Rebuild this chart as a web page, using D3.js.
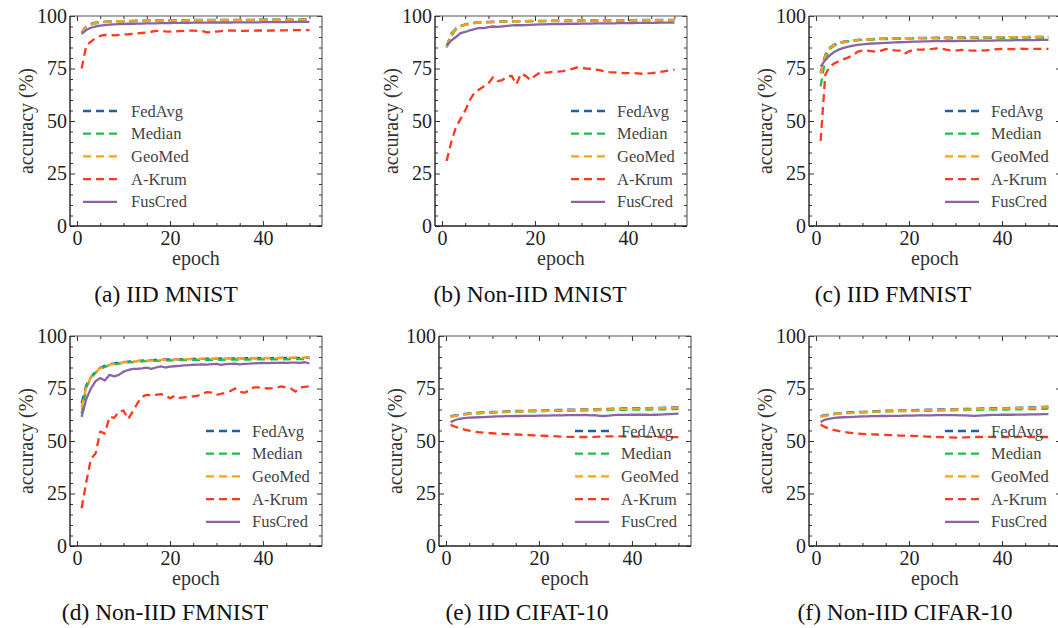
<!DOCTYPE html>
<html>
<head>
<meta charset="utf-8">
<script src="https://cdn.jsdelivr.net/npm/d3@7"></script>
<style>
  html, body { margin: 0; padding: 0; background: #fff; }
  svg { display: block; }
  text { font-family: "Liberation Serif", "Times New Roman", serif; }
</style>
</head>
<body>
<svg id="chart" width="1058" height="628"></svg>
<script>
// ---------- data ----------
const epochs = d3.range(1, 51);
const seriesNames = ["FedAvg", "Median", "GeoMed", "A-Krum", "FusCred"];
const captions = ["(a) IID MNIST", "(b) Non-IID MNIST", "(c) IID FMNIST",
                  "(d) Non-IID FMNIST", "(e) IID CIFAT-10", "(f) Non-IID CIFAR-10"];
const xTickLabels = [0, 20, 40];
const yTickLabels = [0, 25, 50, 75, 100];

// (a) IID MNIST
const fedavg_a = [92.0,95.0,96.2,96.8,97.1,97.3,97.4,97.5,97.6,97.6,
97.7,97.7,97.8,97.8,97.8,97.9,97.9,97.9,97.9,98.0,
98.0,98.0,98.0,98.0,98.1,98.1,98.1,98.1,98.1,98.1,
98.2,98.2,98.2,98.2,98.2,98.2,98.2,98.2,98.3,98.3,
98.3,98.3,98.3,98.3,98.3,98.3,98.3,98.4,98.4,98.4];
const median_a = [91.6,94.6,95.9,96.5,96.9,97.1,97.2,97.3,97.4,97.4,
97.5,97.5,97.6,97.6,97.6,97.7,97.7,97.7,97.7,97.8,
97.8,97.8,97.8,97.8,97.9,97.9,97.9,97.9,97.9,97.9,
98.0,98.0,98.0,98.0,98.0,98.0,98.0,98.0,98.1,98.1,
98.1,98.1,98.1,98.1,98.1,98.1,98.1,98.2,98.2,98.2];
const geomed_a = [91.8,94.8,96.0,96.6,97.0,97.2,97.3,97.4,97.5,97.5,
97.6,97.6,97.7,97.7,97.7,97.8,97.8,97.8,97.8,97.9,
97.9,97.9,97.9,97.9,98.0,98.0,98.0,98.0,98.0,98.0,
98.1,98.1,98.1,98.1,98.1,98.1,98.1,98.1,98.2,98.2,
98.2,98.2,98.2,98.2,98.2,98.2,98.2,98.3,98.3,98.3];
const akrum_a = [75.0,86.0,87.8,89.5,90.5,91.0,90.9,90.8,91.0,91.2,
91.3,91.5,91.7,91.9,92.1,92.5,92.9,92.9,92.7,92.6,
92.7,92.8,92.9,93.0,93.0,92.9,92.8,92.2,92.3,92.6,
92.8,93.0,93.1,93.0,92.9,92.9,93.0,93.0,93.1,93.1,
93.0,93.1,93.2,93.2,93.2,93.3,93.3,93.3,93.3,93.3];
const fuscred_a = [91.5,93.3,94.4,95.0,95.4,95.7,95.9,96.0,96.1,96.2,
96.3,96.3,96.4,96.4,96.5,96.5,96.5,96.6,96.6,96.6,
96.7,96.7,96.7,96.7,96.8,96.8,96.8,96.8,96.9,96.9,
96.9,96.9,96.9,97.0,97.0,97.0,97.0,97.0,97.0,97.1,
97.1,97.1,97.1,97.1,97.1,97.2,97.2,97.2,97.2,97.2];

// (b) Non-IID MNIST
const fedavg_b = [85.5,91.5,94.0,95.3,96.0,96.5,96.8,97.0,97.1,97.2,
97.3,97.4,97.4,97.5,97.5,97.6,97.6,97.6,97.7,97.7,
97.7,97.7,97.8,97.8,97.8,97.8,97.8,97.9,97.9,97.9,
97.9,97.9,97.9,98.0,98.0,98.0,98.0,98.0,98.0,98.0,
98.0,98.1,98.1,98.1,98.1,98.1,98.1,98.1,98.1,98.2];
const median_b = [85.0,90.5,93.5,95.0,95.8,96.3,96.6,96.8,96.9,97.0,
97.1,97.2,97.2,97.3,97.3,97.4,97.4,97.4,97.5,97.5,
97.5,97.5,97.6,97.6,97.6,97.6,97.6,97.7,97.7,97.7,
97.7,97.7,97.7,97.8,97.8,97.8,97.8,97.8,97.8,97.8,
97.8,97.9,97.9,97.9,97.9,97.9,97.9,97.9,97.9,98.0];
const geomed_b = [85.3,91.0,93.8,95.1,95.9,96.4,96.7,96.9,97.0,97.1,
97.2,97.3,97.3,97.4,97.4,97.5,97.5,97.5,97.6,97.6,
97.6,97.6,97.7,97.7,97.7,97.7,97.7,97.8,97.8,97.8,
97.8,97.8,97.8,97.9,97.9,97.9,97.9,97.9,97.9,97.9,
97.9,98.0,98.0,98.0,98.0,98.0,98.0,98.0,98.0,98.1];
const akrum_b = [31.0,40.0,47.0,51.0,55.0,60.0,63.5,65.0,66.5,68.0,
70.8,69.0,69.5,71.0,71.5,67.5,72.5,71.5,69.5,71.5,
73.0,73.0,73.2,73.5,73.5,73.8,74.2,74.8,75.5,75.3,
75.0,74.8,74.5,74.2,73.5,73.3,73.2,73.0,72.8,72.8,
72.8,72.7,72.5,72.7,72.8,73.0,73.4,73.8,74.1,74.4];
const fuscred_b = [86.0,88.3,90.0,91.8,92.4,93.2,93.7,94.3,94.2,94.7,
95.0,94.8,95.1,95.3,95.5,95.6,95.6,95.7,95.8,95.9,
96.0,96.0,96.1,96.1,96.2,96.2,96.3,96.3,96.3,96.4,
96.4,96.4,96.5,96.5,96.5,96.5,96.5,96.6,96.6,96.6,
96.6,96.7,96.7,96.7,96.7,96.7,96.8,96.8,96.8,96.8];

// (c) IID FMNIST
const fedavg_c = [73.0,81.5,85.0,86.5,87.3,87.8,88.1,88.4,88.6,88.8,
88.9,89.0,89.1,89.2,89.3,89.3,89.4,89.4,89.5,89.5,
89.5,89.6,89.6,89.6,89.6,89.7,89.7,89.7,89.7,89.7,
89.8,89.8,89.8,89.8,89.8,89.8,89.8,89.9,89.9,89.9,
89.9,89.9,89.9,89.9,89.9,90.0,90.0,90.0,90.0,90.0];
const median_c = [66.5,79.5,84.3,86.0,87.0,87.5,87.9,88.2,88.4,88.6,
88.7,88.8,88.9,89.0,89.0,89.1,89.1,89.2,89.2,89.2,
89.3,89.3,89.3,89.3,89.4,89.4,89.4,89.4,89.4,89.5,
89.5,89.5,89.5,89.5,89.5,89.6,89.6,89.6,89.6,89.6,
89.6,89.6,89.7,89.7,89.7,89.7,89.7,89.7,89.7,89.7];
const geomed_c = [72.5,81.0,84.8,86.3,87.2,87.7,88.0,88.3,88.5,88.7,
88.8,88.9,89.0,89.1,89.2,89.2,89.3,89.3,89.4,89.4,
89.5,89.5,89.5,89.5,89.6,89.6,89.6,89.6,89.7,89.7,
89.7,89.7,89.7,89.8,89.8,89.8,89.8,89.8,89.8,89.9,
89.9,89.9,89.9,89.9,89.9,89.9,90.0,90.0,90.0,90.0];
const akrum_c = [40.5,72.0,76.0,77.5,78.5,79.5,80.3,81.5,83.0,83.5,
83.5,83.3,83.0,83.5,84.2,84.0,83.6,83.5,82.0,83.2,
83.8,84.0,84.0,84.1,84.3,84.6,84.5,84.0,83.6,83.5,
83.8,83.9,83.6,83.5,83.5,83.6,83.7,84.0,84.2,84.3,
84.3,84.2,84.3,84.4,84.3,84.2,84.3,84.3,84.3,84.3];
const fuscred_c = [76.0,79.0,81.3,83.0,84.1,84.8,85.4,85.9,86.2,86.5,
86.7,86.9,87.0,87.1,87.2,87.3,87.4,87.5,87.6,87.7,
87.8,87.8,87.9,87.9,88.0,88.0,88.0,88.1,88.1,88.1,
88.2,88.2,88.2,88.2,88.3,88.3,88.3,88.3,88.4,88.4,
88.4,88.4,88.5,88.5,88.5,88.5,88.5,88.6,88.6,88.6];

// (d) Non-IID FMNIST
const fedavg_d = [68.0,76.5,80.5,83.0,84.8,85.8,86.5,87.0,87.3,87.6,
87.8,88.0,88.1,88.3,88.4,88.5,88.6,88.7,88.8,88.8,
88.9,88.9,89.0,89.0,89.1,89.1,89.1,89.2,89.2,89.2,
89.3,89.3,89.3,89.3,89.4,89.4,89.4,89.4,89.5,89.5,
89.5,89.5,89.5,89.6,89.6,89.6,89.6,89.6,89.7,89.7];
const median_d = [63.0,75.5,80.0,82.5,84.3,85.3,86.0,86.5,86.9,87.2,
87.4,87.6,87.8,87.9,88.0,88.1,88.2,88.3,88.3,88.4,
88.4,88.5,88.5,88.5,88.6,88.6,88.6,88.7,88.7,88.7,
88.7,88.8,88.8,88.8,88.8,88.8,88.8,88.9,88.9,88.9,
88.9,88.9,88.9,88.9,88.9,89.0,89.0,89.0,89.0,89.0];
const geomed_d = [66.0,76.0,80.3,82.8,84.6,85.6,86.3,86.8,87.1,87.4,
87.6,87.8,88.0,88.2,88.3,88.4,88.5,88.6,88.7,88.8,
88.9,88.9,89.0,89.0,89.1,89.1,89.2,89.2,89.2,89.3,
89.3,89.3,89.4,89.4,89.4,89.4,89.5,89.5,89.5,89.5,
89.6,89.6,89.6,89.6,89.7,89.7,89.7,89.7,89.8,89.8];
const akrum_d = [18.0,30.5,41.5,44.0,54.5,53.5,61.5,61.0,64.0,64.5,
60.5,64.0,68.0,71.0,72.0,71.8,72.0,72.3,72.0,70.3,
71.5,70.5,70.8,71.0,71.3,71.6,72.5,73.3,73.0,72.0,
72.5,73.0,73.8,75.0,73.5,73.0,74.0,75.5,75.5,75.3,
75.0,75.2,75.5,76.0,75.5,75.0,73.5,75.5,75.8,76.0];
const fuscred_d = [61.5,70.0,75.0,78.5,80.0,78.8,81.5,80.8,81.5,83.0,
83.8,84.3,84.4,84.6,84.9,84.3,85.0,85.5,85.0,85.4,
85.6,85.8,86.0,86.1,86.3,86.4,86.5,86.4,86.6,86.7,
86.2,86.6,86.7,86.8,86.5,86.7,86.8,87.0,87.1,87.2,
87.1,87.2,87.2,87.3,87.2,87.3,87.3,87.2,87.5,87.0];

// (e) IID CIFAR-10
const fedavg_e = [61.8,62.2,62.6,62.9,63.1,63.3,63.5,63.6,63.7,63.8,
63.9,64.0,64.1,64.2,64.3,64.3,64.4,64.5,64.5,64.6,
64.6,64.7,64.7,64.8,64.8,64.9,64.9,65.0,65.0,65.1,
65.1,65.2,65.2,65.3,65.3,65.4,65.4,65.5,65.5,65.5,
65.6,65.6,65.7,65.7,65.8,65.8,65.9,65.9,66.0,66.0];
const median_e = [61.6,62.0,62.4,62.7,62.9,63.1,63.2,63.3,63.4,63.5,
63.6,63.7,63.8,63.9,63.9,64.0,64.0,64.1,64.1,64.2,
64.2,64.3,64.3,64.3,64.4,64.4,64.5,64.5,64.5,64.6,
64.6,64.6,64.7,64.7,64.7,64.8,64.8,64.8,64.9,64.9,
64.9,65.0,65.0,65.0,65.1,65.1,65.1,65.2,65.2,65.3];
const geomed_e = [61.5,62.0,62.4,62.7,62.9,63.1,63.3,63.4,63.5,63.6,
63.7,63.8,63.9,64.0,64.1,64.1,64.2,64.3,64.3,64.4,
64.4,64.5,64.5,64.6,64.6,64.7,64.7,64.8,64.8,64.9,
64.9,65.0,65.0,65.1,65.1,65.2,65.2,65.3,65.3,65.3,
65.4,65.4,65.5,65.5,65.6,65.6,65.7,65.7,65.8,65.9];
const akrum_e = [57.7,56.8,56.0,55.4,54.9,54.5,54.2,54.0,53.8,53.7,
53.5,53.4,53.3,53.2,53.1,53.0,52.9,52.8,52.7,52.6,
52.5,52.4,52.3,52.2,52.1,52.0,52.0,51.9,51.9,51.9,
51.9,52.0,52.1,52.2,52.2,52.2,52.2,52.2,52.1,52.1,
52.1,52.0,52.0,52.0,52.0,51.9,51.9,51.9,51.8,51.8];
const fuscred_e = [59.0,60.0,60.6,60.9,61.1,61.2,61.3,61.4,61.5,61.6,
61.7,61.7,61.8,61.8,61.9,61.9,62.0,62.0,62.0,62.1,
62.1,62.1,62.2,62.2,62.2,62.3,62.3,62.3,62.3,62.4,
62.2,62.3,62.0,61.9,62.1,62.3,62.4,62.4,62.4,62.5,
62.5,62.5,62.5,62.4,62.5,62.6,62.7,62.8,62.9,63.0];

// (f) Non-IID CIFAR-10
const fedavg_f = [61.9,62.3,62.7,63.0,63.2,63.4,63.6,63.7,63.8,63.9,
64.0,64.1,64.2,64.3,64.4,64.4,64.5,64.6,64.6,64.7,
64.7,64.8,64.8,64.9,64.9,65.0,65.0,65.1,65.1,65.2,
65.2,65.3,65.3,65.4,65.4,65.5,65.5,65.6,65.6,65.7,
65.7,65.8,65.8,65.9,65.9,66.0,66.0,66.1,66.2,66.3];
const median_f = [61.6,62.1,62.5,62.8,63.0,63.2,63.3,63.4,63.5,63.6,
63.7,63.8,63.9,64.0,64.0,64.1,64.1,64.2,64.2,64.3,
64.3,64.4,64.4,64.4,64.5,64.5,64.6,64.6,64.6,64.7,
64.7,64.7,64.8,64.8,64.8,64.9,64.9,64.9,65.0,65.0,
65.0,65.1,65.1,65.1,65.2,65.2,65.2,65.3,65.3,65.4];
const geomed_f = [61.6,62.1,62.5,62.8,63.0,63.2,63.4,63.5,63.6,63.7,
63.8,63.9,64.0,64.1,64.2,64.2,64.3,64.4,64.4,64.5,
64.5,64.6,64.6,64.7,64.7,64.8,64.8,64.9,64.9,65.0,
65.0,65.1,65.1,65.2,65.2,65.3,65.3,65.4,65.4,65.5,
65.5,65.6,65.6,65.7,65.7,65.8,65.8,65.9,66.0,66.1];
const akrum_f = [57.8,56.6,55.8,55.2,54.7,54.3,54.0,53.7,53.5,53.4,
53.3,53.2,53.1,53.0,52.9,52.8,52.7,52.6,52.6,52.5,
52.4,52.3,52.2,52.1,52.0,51.9,51.8,51.8,51.7,51.6,
51.6,51.7,51.8,51.9,51.9,52.0,52.0,51.9,51.9,51.9,
51.9,51.9,51.9,52.0,52.0,51.9,51.9,51.9,51.9,51.9];
const fuscred_f = [59.0,60.2,60.7,61.0,61.2,61.3,61.4,61.5,61.6,61.7,
61.7,61.8,61.8,61.9,61.9,62.0,62.0,62.0,62.1,62.1,
62.1,62.2,62.2,62.2,62.2,62.3,62.3,62.3,62.3,62.3,
62.2,62.2,62.1,62.0,62.1,62.2,62.3,62.4,62.4,62.5,
62.5,62.5,62.6,62.6,62.6,62.7,62.7,62.7,62.8,62.8];

const panelData = [
  [fedavg_a, median_a, geomed_a, akrum_a, fuscred_a],
  [fedavg_b, median_b, geomed_b, akrum_b, fuscred_b],
  [fedavg_c, median_c, geomed_c, akrum_c, fuscred_c],
  [fedavg_d, median_d, geomed_d, akrum_d, fuscred_d],
  [fedavg_e, median_e, geomed_e, akrum_e, fuscred_e],
  [fedavg_f, median_f, geomed_f, akrum_f, fuscred_f]
];

// ---------- styles / layout ----------
const colors = ["#1b5fae", "#1fbf4c", "#ff9f1a", "#ff3a1c", "#8a64a6"];
const dashes = ["8,5", "8,5", "8,5", "8,5", null];

const W = 252, H = 210;
const layout = [
  {left: 70,  top: 16,  capX: 166, capY: 302, legendLeft: true},
  {left: 435, top: 16,  capX: 530, capY: 302},
  {left: 809, top: 16,  capX: 893, capY: 302},
  {left: 70,  top: 336, capX: 165, capY: 620},
  {left: 439, top: 336, capX: 527, capY: 620},
  {left: 809, top: 336, capX: 905, capY: 620}
];

const svg = d3.select("#chart");
const defs = svg.append("defs");

layout.forEach((L, pi) => {
  const x = d3.scaleLinear().domain([-1.5, 52.7]).range([L.left, L.left + W]);
  const y = d3.scaleLinear().domain([0, 100]).range([L.top + H, L.top]);
  const g = svg.append("g");

  defs.append("clipPath").attr("id", "clip" + pi)
    .append("rect").attr("x", L.left).attr("y", L.top).attr("width", W).attr("height", H);

  const xMinor = d3.range(0, 51, 5).filter(v => !xTickLabels.includes(v));
  const yMinor = d3.range(0, 101, 5).filter(v => !yTickLabels.includes(v));

  const tickStyle = sel => {
    sel.select(".domain").remove();
    sel.selectAll("line").attr("stroke", "#333").attr("stroke-width", 1);
    sel.selectAll("text").attr("font-family", "Liberation Serif, serif")
      .attr("font-size", 20).attr("fill", "#222");
  };

  // bottom
  g.append("g").attr("transform", `translate(0,${L.top + H})`)
    .call(d3.axisBottom(x).tickValues(xMinor).tickSize(-3).tickFormat(""))
    .call(tickStyle);
  g.append("g").attr("transform", `translate(0,${L.top + H})`)
    .call(d3.axisBottom(x).tickValues(xTickLabels).tickSize(-5).tickPadding(5).tickFormat(d3.format("d")))
    .call(tickStyle);
  // top
  g.append("g").attr("transform", `translate(0,${L.top})`)
    .call(d3.axisTop(x).tickValues(xMinor).tickSize(-3).tickFormat(""))
    .call(tickStyle);
  g.append("g").attr("transform", `translate(0,${L.top})`)
    .call(d3.axisTop(x).tickValues(xTickLabels).tickSize(-5).tickFormat(""))
    .call(tickStyle);
  // left
  g.append("g").attr("transform", `translate(${L.left},0)`)
    .call(d3.axisLeft(y).tickValues(yMinor).tickSize(-3).tickFormat(""))
    .call(tickStyle);
  g.append("g").attr("transform", `translate(${L.left},0)`)
    .call(d3.axisLeft(y).tickValues(yTickLabels).tickSize(-5).tickPadding(3).tickFormat(d3.format("d")))
    .call(tickStyle);
  // right
  g.append("g").attr("transform", `translate(${L.left + W},0)`)
    .call(d3.axisRight(y).tickValues(yMinor).tickSize(-3).tickFormat(""))
    .call(tickStyle);
  g.append("g").attr("transform", `translate(${L.left + W},0)`)
    .call(d3.axisRight(y).tickValues(yTickLabels).tickSize(-5).tickFormat(""))
    .call(tickStyle);

  // frame
  g.append("line").attr("x1", L.left).attr("x2", L.left + W).attr("y1", L.top).attr("y2", L.top)
    .attr("stroke", "#555").attr("stroke-width", 1.1);
  g.append("line").attr("x1", L.left + W).attr("x2", L.left + W).attr("y1", L.top).attr("y2", L.top + H)
    .attr("stroke", "#555").attr("stroke-width", 1.1);
  g.append("line").attr("x1", L.left).attr("x2", L.left).attr("y1", L.top).attr("y2", L.top + H)
    .attr("stroke", "#222").attr("stroke-width", 1.4);
  g.append("line").attr("x1", L.left).attr("x2", L.left + W).attr("y1", L.top + H).attr("y2", L.top + H)
    .attr("stroke", "#222").attr("stroke-width", 1.4);

  // lines
  const line = d3.line().x((d, i) => x(epochs[i])).y(d => y(d));
  const lg = g.append("g").attr("clip-path", `url(#clip${pi})`);
  panelData[pi].forEach((vals, si) => {
    lg.append("path").datum(vals)
      .attr("d", line)
      .attr("fill", "none")
      .attr("stroke", colors[si])
      .attr("stroke-width", 2.3)
      .attr("stroke-linejoin", "round")
      .attr("stroke-dasharray", dashes[si]);
  });

  // legend
  const lx0 = L.legendLeft ? L.left + 13 : L.left + W - 116;
  const lx1 = lx0 + 34;
  const tx = L.legendLeft ? L.left + 61 : L.left + W - 70;
  seriesNames.forEach((name, si) => {
    const ly = L.top + 95 + si * 22.7;
    g.append("line").attr("x1", lx0).attr("x2", lx1).attr("y1", ly).attr("y2", ly)
      .attr("stroke", colors[si]).attr("stroke-width", 2.3)
      .attr("stroke-dasharray", dashes[si]);
    g.append("text").attr("x", tx).attr("y", ly + 5.5)
      .attr("font-size", 16.5).attr("fill", "#444").text(name);
  });

  // axis titles
  g.append("text").attr("x", L.left + W / 2).attr("y", L.top + H + 38.5)
    .attr("text-anchor", "middle").attr("font-size", 20).attr("fill", "#333").text("epoch");
  g.append("text")
    .attr("transform", `translate(${L.left - 37},${L.top + H / 2}) rotate(-90)`)
    .attr("text-anchor", "middle").attr("font-size", 20).attr("fill", "#333").text("accuracy (%)");

  // caption
  g.append("text").attr("x", L.capX).attr("y", L.capY)
    .attr("text-anchor", "middle").attr("font-size", 23.5).attr("fill", "#111").text(captions[pi]);
});
</script>
</body>
</html>
